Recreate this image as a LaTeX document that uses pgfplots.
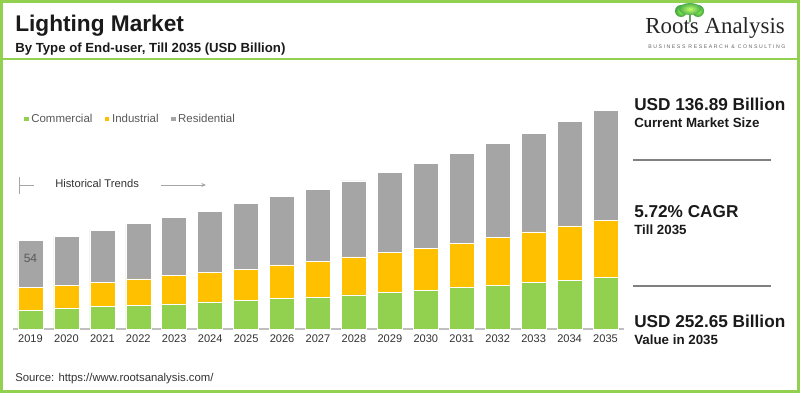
\documentclass[border=0pt]{standalone}
\usepackage{fontspec}
\setmainfont{Liberation Sans}
\newfontfamily\seriffont{Liberation Serif}
\newfontfamily\tagfont[LetterSpace=30]{Liberation Sans}
\usepackage{pgfplots}
\usepackage{pgfplotstable}
\pgfplotsset{compat=1.18}
\usetikzlibrary{arrows.meta}
\definecolor{cgreen}{HTML}{92D050}
\definecolor{cyellow}{HTML}{FFC000}
\definecolor{cgray}{HTML}{A5A5A5}
\definecolor{bgreen}{HTML}{92D050}
\definecolor{dtext}{HTML}{1A1A1A}
\definecolor{ltext}{HTML}{595959}
\definecolor{ytext}{HTML}{333333}

\pgfplotstableread{
x com ind res
0  21.9 26.2 54.0
1  23.4 27.4 56.6
2  25.8 28.2 60.1
3  27.4 30.4 63.9
4  28.9 33.1 67.0
5  31.2 33.8 71.3
6  33.1 36.2 75.4
7  35.5 38.5 78.9
8  36.6 41.6 83.5
9  39.3 43.9 87.8
10 42.4 45.7 93.2
11 44.7 48.5 98.5
12 47.7 51.3 103.5
13 50.5 55.4 108.1
14 53.5 58.6 114.3
15 56.6 62.4 120.5
16 59.7 66.2 126.7
}\datatable

\begin{document}
\begin{tikzpicture}
\path[use as bounding box] (0pt,0pt) rectangle (600pt,294.75pt);
\fill[white] (0pt,0pt) rectangle (600pt,294.75pt);

\begin{axis}[
  at={(9.375pt,48pt)}, anchor=south west,
  scale only axis, width=458.25pt, height=175.3pt,
  xmin=-0.5, xmax=16.5, ymin=0, ymax=270,
  ybar stacked, bar width=18.75pt,
  axis y line=none, axis x line=bottom,
  x axis line style={-, draw=black!25, line width=0.9pt},
  xtick={0,...,16},
  xticklabels={2019,2020,2021,2022,2023,2024,2025,2026,2027,2028,2029,2030,2031,2032,2033,2034,2035},
  major tick length=0pt,
  xticklabel style={font=\fontsize{8.3}{10}\selectfont, text=ytext, yshift=-1pt},
  legend style={at={(axis description cs:0.019,0.8986)}, anchor=west, draw=none, fill=none,
    legend columns=3, inner sep=0pt, font=\fontsize{8.6}{10}\selectfont, text=ltext,
    /tikz/every even column/.append style={column sep=7.5pt}},
  legend image code/.code={\fill[#1, draw=none] (0pt,-1.6pt) rectangle (3.2pt,1.6pt);},
  legend cell align=left,
  clip=false,
]
\addplot[fill=cgreen, draw=white, line width=0.4pt] table[x=x,y=com]{\datatable};
\addplot[fill=cyellow, draw=white, line width=0.4pt] table[x=x,y=ind]{\datatable};
\addplot[fill=cgray, draw=white, line width=0.4pt] table[x=x,y=res]{\datatable};
\legend{Commercial,Industrial,Residential}
\coordinate (lab54) at (axis cs:0,82);
\end{axis}
\node[text=ltext, font=\fontsize{9}{10}\selectfont] at (lab54) {54};

\begin{scope}[yshift=294.75pt, x=0.75pt, y=-0.75pt]
% header
\node[anchor=base west, inner sep=0pt, text=dtext, font=\fontsize{17}{20}\selectfont\bfseries] at (15,32) {Lighting Market};
\node[anchor=base west, inner sep=0pt, text=dtext, font=\fontsize{9.9}{11}\selectfont\bfseries] at (15,52.5) {By Type of End-user, Till 2035 (USD Billion)};

% logo
\shade[inner color=green!60!yellow!70, outer color=green!50!black!75] (681,11) circle [radius=6];
\shade[inner color=green!60!yellow!70, outer color=green!50!black!75] (698,11) circle [radius=6];
\shade[inner color=yellow!60!green!60, outer color=green!55!black!70] (690,9) ellipse [x radius=11, y radius=6];
\fill[green!35!black!60] (688.5,15) rectangle (691,22);
\node[anchor=base west, inner sep=0pt, text=black!85, font=\seriffont\fontsize{17.2}{18}\selectfont] at (645,33.5) {Roots Analysis};
\node[anchor=base west, inner sep=0pt, text=black!60, font=\tagfont\fontsize{3.9}{4}\selectfont] at (648,48.5) {BUSINESS RESEARCH \& CONSULTING};

% historical trends
\draw[black!35, line width=0.6pt] (19,177) -- (19,194);
\draw[black!35, line width=0.6pt] (19,185) -- (34,185);
\node[anchor=west, inner sep=0pt, text=ytext, font=\fontsize{8.4}{10}\selectfont] at (55,183.5) {Historical Trends};
\draw[black!35, line width=0.6pt, -{Stealth[length=3.5pt,width=3pt]}] (161,185) -- (206,185);

% right panel
\node[anchor=base west, inner sep=0pt, text=dtext, font=\fontsize{12.9}{15}\selectfont\bfseries] at (634,111) {USD 136.89 Billion};
\node[anchor=base west, inner sep=0pt, text=dtext, font=\fontsize{10}{11}\selectfont\bfseries] at (634,128) {Current Market Size};
\draw[black!50, line width=1.5pt] (633,160.5) -- (771,160.5);
\node[anchor=base west, inner sep=0pt, text=dtext, font=\fontsize{12.9}{15}\selectfont\bfseries] at (634,218) {5.72\% CAGR};
\node[anchor=base west, inner sep=0pt, text=dtext, font=\fontsize{10}{11}\selectfont\bfseries] at (634,234.5) {Till 2035};
\draw[black!50, line width=1.5pt] (633,286) -- (771,286);
\node[anchor=base west, inner sep=0pt, text=dtext, font=\fontsize{12.9}{15}\selectfont\bfseries] at (634,328) {USD 252.65 Billion};
\node[anchor=base west, inner sep=0pt, text=dtext, font=\fontsize{10}{11}\selectfont\bfseries] at (634,344.5) {Value in 2035};

% source
\node[anchor=base west, inner sep=0pt, text=ytext, font=\fontsize{8.5}{10}\selectfont] at (15,381) {Source: https://www.rootsanalysis.com/};

% borders
\draw[bgreen, line width=1.5pt] (0,59) -- (800,59);
\draw[bgreen, line width=2.25pt] (1.5,1.5) rectangle (798.5,391.5);
\end{scope}
\end{tikzpicture}
\end{document}
